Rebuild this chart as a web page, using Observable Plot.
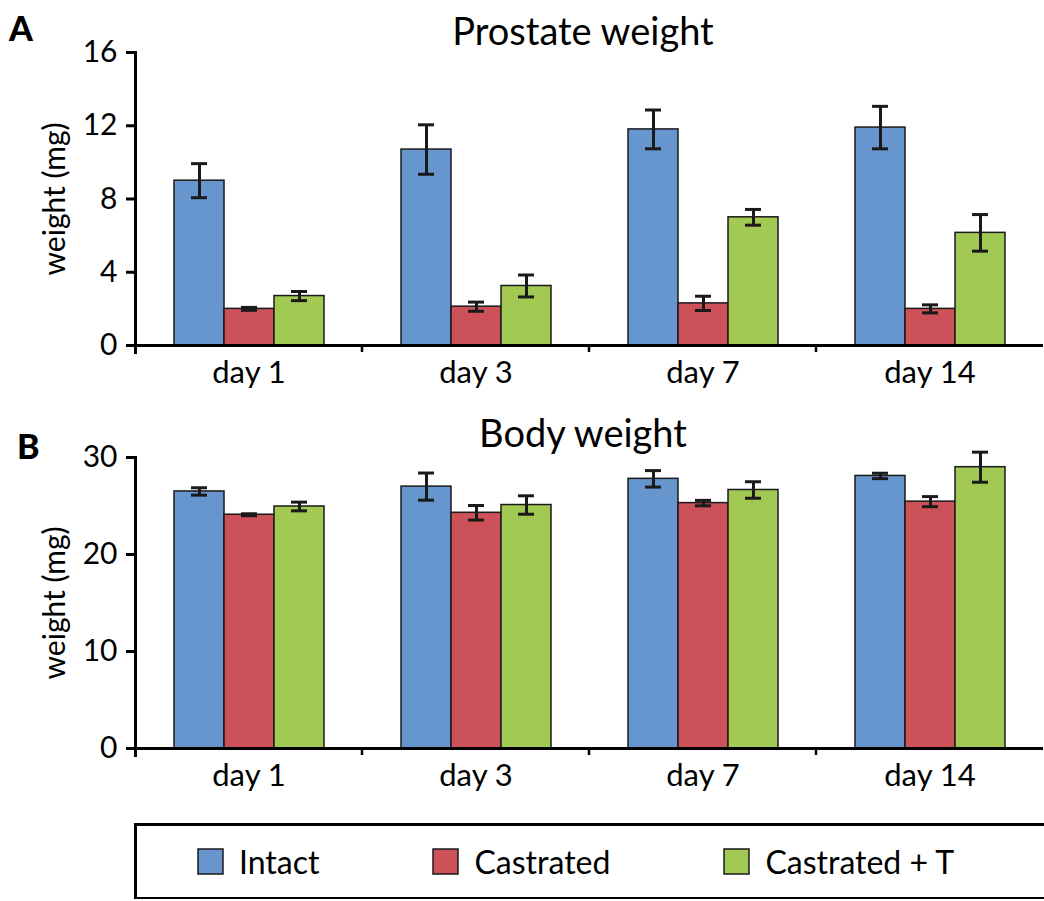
<!DOCTYPE html>
<html>
<head>
<meta charset="utf-8">
<script src="https://cdn.jsdelivr.net/npm/d3@7"></script>
<script src="https://cdn.jsdelivr.net/npm/@observablehq/plot@0.6"></script>
<style>
  html, body { margin: 0; padding: 0; background: #fff; overflow: hidden; }
  #root { position: relative; width: 1044px; height: 901px; font-family: Lato, sans-serif; color: #000; }
  .letter { position: absolute; font: 900 34px/1 Lato, sans-serif; }
  .title { position: absolute; left: 283px; width: 600px; text-align: center; font: 38px/1 Lato, sans-serif; }
  .panel { position: absolute; left: 0; }
  #legend { position: absolute; left: 134px; top: 823px; width: 1000px; height: 76px; box-sizing: border-box;
            border-top: 3px solid #000; border-left: 3px solid #000; border-bottom: 2px solid #000;
            display: flex; align-items: center; padding-left: 61px; }
  #legend > div { margin: 0 !important; min-height: 0 !important; }
  #legend, #legend div, #legend span { font-family: Lato, sans-serif !important; font-size: 32px !important; color: #000 !important; }
  #legend .lg-swatch { margin-right: 114px !important; }
  #legend .lg-swatch > svg { margin-right: 16px !important; }
  #legend .lg-swatch rect { stroke: #1a1a1a; stroke-width: 1.5px; }
</style>
</head>
<body>
<div id="root">
  <div class="letter" style="left:9px; top:11px;">A</div>
  <div class="title" style="top:11px;">Prostate weight</div>
  <div class="panel" id="panelA" style="top:0px;"></div>
  <div class="letter" style="left:17px; top:429px;">B</div>
  <div class="title" style="top:413px;">Body weight</div>
  <div class="panel" id="panelB" style="top:400px;"></div>
  <div id="legend"></div>
</div>
<script>
// ---- data ----
const days = ["day 1", "day 3", "day 7", "day 14"];
const groups = ["Intact", "Castrated", "Castrated + T"];
const colors = ["#6795ce", "#cc5158", "#a2c954"];

const prostateIntact = [9.0, 10.7, 11.8, 11.9];
const prostateIntactErr = [0.93, 1.35, 1.06, 1.16];
const prostateCastrated = [2.0, 2.12, 2.3, 2.0];
const prostateCastratedErr = [0.08, 0.25, 0.39, 0.22];
const prostateCastT = [2.7, 3.25, 7.0, 6.15];
const prostateCastTErr = [0.25, 0.6, 0.43, 1.0];

const bodyIntact = [26.5, 27.0, 27.8, 28.1];
const bodyIntactErr = [0.38, 1.4, 0.85, 0.28];
const bodyCastrated = [24.1, 24.3, 25.3, 25.45];
const bodyCastratedErr = [0.1, 0.75, 0.28, 0.52];
const bodyCastT = [24.95, 25.1, 26.65, 29.0];
const bodyCastTErr = [0.45, 0.95, 0.85, 1.55];

const prostateTicks = [0, 4, 8, 12, 16];
const bodyTicks = [0, 10, 20, 30];

function makePanel(series, errs, ticks, opts) {
  const rows = [];
  days.forEach((day, i) => groups.forEach((g, j) =>
    rows.push({day, group: g, value: series[j][i], err: errs[j][i]})));
  const ink = "#1a1a1a";
  const plot = Plot.plot({
    width: 1044,
    height: opts.height,
    marginLeft: 133,
    marginRight: 0,
    marginTop: opts.top,
    marginBottom: opts.bottom,
    style: {fontFamily: "Lato, sans-serif", fontSize: "30px", color: "#000", background: "transparent", overflow: "visible"},
    fx: {domain: days, padding: 0, label: null},
    x: {domain: groups, paddingInner: 0, paddingOuter: 0.76, axis: null, label: null},
    y: {domain: [ticks[0], ticks[ticks.length - 1]], label: null},
    color: {domain: groups, range: colors},
    marks: [
      Plot.barY(rows, {fx: "day", x: "group", y: "value", fill: "group", stroke: ink, strokeWidth: 1.5, inset: 0}),
      Plot.ruleX(rows, {fx: "day", x: "group", y1: d => d.value - d.err, y2: d => d.value + d.err, stroke: ink, strokeWidth: 3}),
      Plot.tickY(rows, {fx: "day", x: "group", y: d => d.value - d.err, stroke: ink, strokeWidth: 3, insetLeft: 17, insetRight: 17}),
      Plot.tickY(rows, {fx: "day", x: "group", y: d => d.value + d.err, stroke: ink, strokeWidth: 3, insetLeft: 17, insetRight: 17}),
      Plot.ruleY([0], {stroke: "#000", strokeWidth: 3}),
      Plot.frame({anchor: "left", facetAnchor: "left", stroke: "#000", strokeWidth: 3, insetBottom: -7}),
      Plot.axisY({ticks, tickSize: 9, tickPadding: 9, strokeWidth: 3, fontSize: 30,
                  label: "weight (mg)", labelAnchor: "center", labelOffset: 92, labelArrow: "none"}),
      Plot.axisFx({anchor: "bottom", tickSize: 0, tickPadding: 15, fontSize: 31, label: null})
    ]
  });
  // boundary ticks between day groups, from the library's fx and y scales
  const fx = plot.scale("fx");
  const y = plot.scale("y");
  const y0 = y.apply(0);
  const svg = d3.select(plot.tagName === "svg" ? plot : plot.querySelector("svg"));
  const bounds = days.slice(1).map(d => fx.apply(d));
  svg.append("g").selectAll("line").data(bounds).join("line")
    .attr("x1", d => d).attr("x2", d => d)
    .attr("y1", y0).attr("y2", y0 + 7)
    .attr("stroke", "#000").attr("stroke-width", 2.5);
  return plot;
}

document.getElementById("panelA").append(
  makePanel([prostateIntact, prostateCastrated, prostateCastT],
            [prostateIntactErr, prostateCastratedErr, prostateCastTErr],
            prostateTicks, {height: 400, top: 52, bottom: 55}));

document.getElementById("panelB").append(
  makePanel([bodyIntact, bodyCastrated, bodyCastT],
            [bodyIntactErr, bodyCastratedErr, bodyCastTErr],
            bodyTicks, {height: 400, top: 57, bottom: 52}));

document.getElementById("legend").append(
  Plot.legend({color: {domain: groups, range: colors}, swatchSize: 25, className: "lg"}));
</script>
</body>
</html>
